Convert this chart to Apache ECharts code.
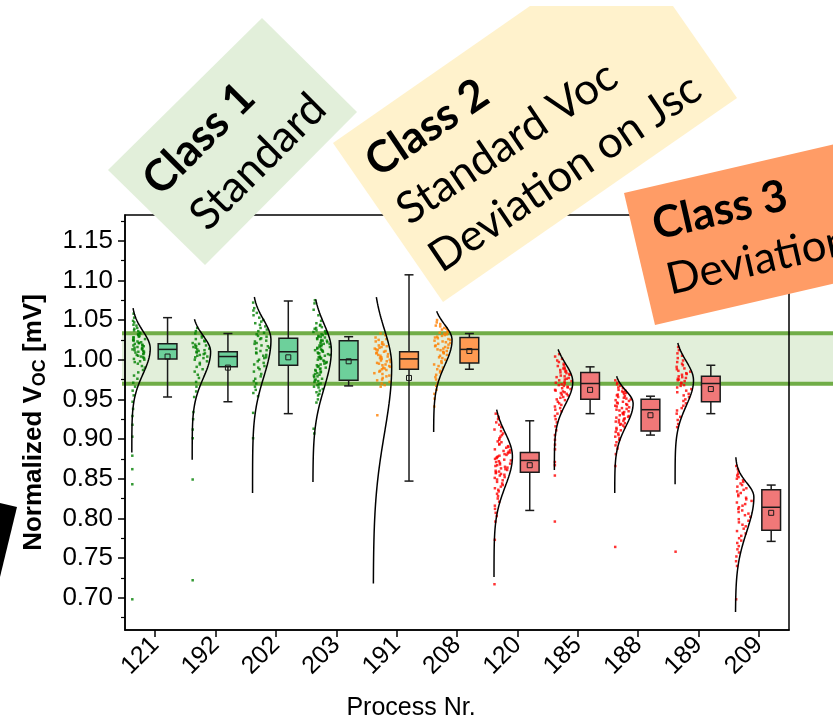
<!DOCTYPE html>
<html><head><meta charset="utf-8">
<script src="https://cdn.jsdelivr.net/npm/echarts@6/dist/echarts.min.js"></script>
<style>html,body{margin:0;padding:0;background:#fff}#c{width:833px;height:721px}</style>
</head><body><div id="c"></div>
<script>
// ---------------- data ----------------
const processes = ['121','192','202','203','191','208','120','185','188','189','209'];
const classOf   = [1,1,1,1,2,2,3,3,3,3,3];

// box statistics
const boxMin    = [0.953,0.947,0.932,0.967,0.847,0.988,0.810,0.932,0.905,0.932,0.771];
const boxQ1     = [1.001,0.991,0.993,0.974,0.988,0.996,0.858,0.950,0.910,0.947,0.785];
const boxMedian = [1.013,1.004,1.010,1.000,1.001,1.013,0.873,0.970,0.937,0.970,0.814];
const boxQ3     = [1.020,1.010,1.027,1.024,1.010,1.028,0.883,0.984,0.950,0.979,0.836];
const boxMax    = [1.053,1.033,1.074,1.029,1.107,1.033,0.923,0.991,0.954,0.993,0.842];
const boxMean   = [1.004,0.990,1.003,0.998,0.977,1.011,0.867,0.962,0.930,0.963,0.807];

// distribution curves (range, peak, spread above / below peak)
const curveLow    = [0.883,0.874,0.832,0.846,0.718,0.909,0.726,0.861,0.832,0.843,0.682];
const curveHigh   = [1.065,1.051,1.079,1.076,1.079,1.061,0.937,1.013,0.979,1.021,0.877];
const curvePeak   = [1.014,1.010,1.025,1.012,0.992,1.025,0.878,0.972,0.945,0.974,0.827];
const curveSdUp   = [0.022,0.020,0.025,0.033,0.046,0.019,0.030,0.023,0.016,0.024,0.018];
const curveSdDown = [0.032,0.033,0.047,0.048,0.085,0.032,0.038,0.028,0.029,0.032,0.044];

// individual measurements (estimated from the scatter)
const pts121 = [1.058,1.053,1.049,1.047,1.044,1.043,1.040,1.039,1.037,1.036,1.034,1.033,1.032,1.031,1.030,1.029,1.028,1.028,1.026,1.025,1.025,1.024,1.023,1.022,1.021,1.021,1.020,1.019,1.018,1.018,1.017,1.016,1.015,1.015,1.014,1.013,1.013,1.012,1.011,1.010,1.010,1.009,1.008,1.007,1.006,1.005,1.004,1.003,1.002,1.001,1.000,0.998,0.997,0.995,0.992,0.990,0.987,0.984,0.980,0.976,0.971,0.966,0.961,0.955,0.947,0.938,0.929,0.918,0.903,0.879,0.862,0.843,0.698];
const pts192 = [1.040,1.036,1.033,1.030,1.028,1.026,1.024,1.023,1.021,1.020,1.019,1.018,1.017,1.016,1.015,1.014,1.013,1.012,1.011,1.010,1.009,1.008,1.007,1.006,1.005,1.004,1.003,1.002,1.000,0.998,0.996,0.994,0.991,0.988,0.985,0.981,0.977,0.972,0.966,0.960,0.953,0.934,0.925,0.912,0.901,0.849,0.722];
const pts202 = [1.072,1.065,1.062,1.059,1.056,1.053,1.050,1.048,1.046,1.044,1.042,1.040,1.038,1.036,1.034,1.032,1.030,1.029,1.027,1.026,1.024,1.023,1.021,1.020,1.018,1.017,1.015,1.014,1.012,1.011,1.009,1.008,1.006,1.005,1.003,1.002,1.000,0.998,0.996,0.994,0.992,0.990,0.988,0.985,0.982,0.979,0.976,0.973,0.970,0.966,0.962,0.958,0.954,0.933,0.901];
const pts203 = [1.075,1.071,1.063,1.056,1.049,1.046,1.044,1.043,1.041,1.040,1.039,1.037,1.036,1.035,1.034,1.033,1.032,1.031,1.030,1.029,1.029,1.028,1.027,1.026,1.025,1.024,1.024,1.023,1.022,1.021,1.020,1.020,1.019,1.018,1.017,1.016,1.016,1.015,1.014,1.013,1.012,1.012,1.011,1.010,1.009,1.008,1.008,1.007,1.006,1.005,1.004,1.003,1.003,1.002,1.001,1.000,0.999,0.998,0.997,0.996,0.995,0.994,0.993,0.992,0.991,0.990,0.989,0.988,0.987,0.986,0.985,0.984,0.983,0.982,0.981,0.980,0.979,0.978,0.976,0.975,0.974,0.973,0.972,0.970,0.969,0.968,0.966,0.965,0.963,0.961,0.959,0.957,0.955,0.950,0.946,0.913,0.907];
const pts191 = [1.033,1.031,1.028,1.026,1.025,1.023,1.022,1.020,1.019,1.018,1.017,1.016,1.015,1.014,1.013,1.012,1.011,1.010,1.009,1.008,1.007,1.006,1.005,1.004,1.003,1.002,1.001,1.000,0.999,0.998,0.997,0.996,0.995,0.994,0.993,0.992,0.991,0.990,0.989,0.988,0.987,0.986,0.985,0.983,0.982,0.980,0.979,0.977,0.975,0.974,0.972,0.970,0.968,0.966,0.930];
const pts208 = [1.050,1.047,1.045,1.043,1.042,1.040,1.039,1.038,1.036,1.035,1.034,1.033,1.032,1.031,1.030,1.029,1.028,1.027,1.026,1.025,1.024,1.023,1.022,1.021,1.020,1.019,1.018,1.017,1.016,1.015,1.014,1.013,1.012,1.011,1.010,1.009,1.008,1.006,1.005,1.003,1.002,1.000,0.998,0.996,0.994,0.992,0.990,0.988,0.986,0.984,0.981,0.978,0.975,0.971,0.967,0.962,0.957,0.951,0.941];
const pts120 = [0.932,0.928,0.925,0.921,0.918,0.915,0.912,0.910,0.907,0.905,0.903,0.901,0.899,0.897,0.896,0.894,0.893,0.891,0.890,0.889,0.887,0.886,0.885,0.884,0.883,0.882,0.881,0.880,0.879,0.878,0.877,0.876,0.875,0.874,0.873,0.872,0.871,0.870,0.869,0.868,0.867,0.866,0.865,0.864,0.863,0.862,0.861,0.860,0.859,0.858,0.857,0.856,0.855,0.854,0.852,0.851,0.849,0.848,0.846,0.844,0.842,0.840,0.838,0.836,0.834,0.831,0.828,0.825,0.821,0.816,0.812,0.807,0.803,0.796,0.773,0.717];
const pts185 = [1.007,1.004,1.001,0.999,0.997,0.995,0.993,0.992,0.990,0.989,0.988,0.987,0.986,0.985,0.984,0.983,0.982,0.981,0.980,0.979,0.978,0.977,0.976,0.975,0.974,0.973,0.972,0.971,0.970,0.969,0.968,0.967,0.966,0.965,0.964,0.963,0.962,0.961,0.960,0.959,0.958,0.957,0.956,0.955,0.953,0.952,0.950,0.949,0.947,0.945,0.943,0.941,0.939,0.937,0.935,0.932,0.929,0.925,0.921,0.916,0.911,0.905,0.899,0.893,0.887,0.871,0.867,0.854,0.796];
const pts188 = [0.974,0.971,0.969,0.967,0.965,0.964,0.962,0.961,0.960,0.959,0.958,0.957,0.956,0.955,0.954,0.953,0.952,0.951,0.950,0.949,0.948,0.947,0.946,0.945,0.944,0.943,0.942,0.941,0.940,0.939,0.938,0.937,0.936,0.935,0.934,0.933,0.932,0.931,0.930,0.929,0.928,0.927,0.926,0.925,0.924,0.923,0.922,0.921,0.920,0.919,0.918,0.917,0.915,0.914,0.912,0.911,0.909,0.907,0.905,0.903,0.901,0.899,0.896,0.892,0.888,0.881,0.866,0.764];
const pts189 = [1.016,1.012,1.008,1.005,1.002,0.999,0.997,0.995,0.993,0.991,0.989,0.988,0.986,0.985,0.983,0.982,0.981,0.979,0.978,0.977,0.976,0.975,0.974,0.973,0.971,0.970,0.968,0.967,0.965,0.963,0.961,0.959,0.957,0.955,0.953,0.950,0.948,0.945,0.942,0.939,0.936,0.932,0.928,0.924,0.919,0.915,0.758];
const pts209 = [0.866,0.862,0.859,0.856,0.854,0.852,0.850,0.848,0.846,0.844,0.842,0.840,0.838,0.836,0.834,0.832,0.830,0.828,0.826,0.824,0.822,0.820,0.818,0.816,0.814,0.812,0.810,0.808,0.806,0.804,0.802,0.799,0.797,0.795,0.792,0.790,0.787,0.784,0.781,0.778,0.775,0.772,0.769,0.765,0.761,0.757,0.752,0.746,0.740,0.698];

// y axis ticks
const yTicks      = [0.70,0.75,0.80,0.85,0.90,0.95,1.00,1.05,1.10,1.15];
const yMinorTicks = [0.675,0.725,0.775,0.825,0.875,0.925,0.975,1.025,1.075,1.125,1.175];
const bandLow = 0.9697, bandHigh = 1.0333;

// ---------------- style / layout ----------------
const AX_FONT = 'Liberation Sans, Arial, sans-serif';
const LB_FONT = 'Lato, sans-serif';
const classColors = {
  1: {pt:'#008000', box:'#6dd09b'},
  2: {pt:'#ff8000', box:'#ff9a52'},
  3: {pt:'#ff0000', box:'#f07878'}
};
const BASE = -0.387, AMP = 0.305, BOX_OFF = 0.205, BOX_W = 0.31;

const pointSets = [pts121,pts192,pts202,pts203,pts191,pts208,pts120,pts185,pts188,pts189,pts209];

function dens(k, y) {
  const sd = y >= curvePeak[k] ? curveSdUp[k] : curveSdDown[k];
  const d = (y - curvePeak[k]) / sd;
  return Math.exp(-0.5 * d * d);
}
// deterministic horizontal spread of the dots inside the envelope (layout only, not data)
function spread(i, k) {
  let h = Math.imul(i + 1, 2654435761) ^ Math.imul(k + 7, 40503);
  h = Math.imul(h ^ (h >>> 15), 2246822519);
  h = Math.imul(h ^ (h >>> 13), 3266489917);
  h ^= h >>> 16;
  return (h >>> 0) / 4294967296;
}

const scatterSeries = [1,2,3].map(c => ({
  type: 'scatter', xAxisIndex: 1, yAxisIndex: 0, symbol: 'rect', symbolSize: 2.5,
  itemStyle: {color: classColors[c].pt}, silent: true, z: 3,
  data: pointSets.flatMap((arr, k) => classOf[k] !== c ? [] :
    arr.map((v, i) => [k + BASE + 0.008 + spread(i, k) * AMP * 0.92 * dens(k, v), v]))
}));

const curveSeries = processes.map((p, k) => {
  const n = 140, data = [];
  for (let j = 0; j <= n; j++) {
    const y = curveLow[k] + (curveHigh[k] - curveLow[k]) * j / n;
    data.push([k + BASE + AMP * dens(k, y), y]);
  }
  return {type: 'line', xAxisIndex: 1, yAxisIndex: 0, data, symbol: 'none',
    lineStyle: {color: '#000', width: 1.5}, silent: true, z: 4};
});

const boxData = processes.map((p, k) => [k, boxMin[k], boxQ1[k], boxMedian[k], boxQ3[k], boxMax[k], boxMean[k]]);

const boxSeries = {
  type: 'custom', xAxisIndex: 1, yAxisIndex: 0, z: 5, silent: true, data: boxData,
  encode: {x: 0, y: [1,2,3,4,5,6]},
  renderItem(params, api) {
    const k = api.value(0);
    const cx = api.coord([k + BOX_OFF, 1])[0];
    const hw = api.size([BOX_W, 0])[0] / 2;
    const cw = hw * 0.48;
    const py = i => api.coord([k, api.value(i)])[1];
    const yMin = py(1), yQ1 = py(2), yMed = py(3), yQ3 = py(4), yMax = py(5), yMean = py(6);
    const col = classColors[classOf[k]].box;
    const ls = {stroke: '#1a1a1a', lineWidth: 1.5};
    return {type: 'group', children: [
      {type: 'line', shape: {x1: cx, y1: yMax, x2: cx, y2: yQ3}, style: ls},
      {type: 'line', shape: {x1: cx, y1: yQ1, x2: cx, y2: yMin}, style: ls},
      {type: 'line', shape: {x1: cx - cw, y1: yMax, x2: cx + cw, y2: yMax}, style: ls},
      {type: 'line', shape: {x1: cx - cw, y1: yMin, x2: cx + cw, y2: yMin}, style: ls},
      {type: 'rect', shape: {x: cx - hw, y: yQ3, width: 2 * hw, height: yQ1 - yQ3},
        style: {fill: col, stroke: '#1a1a1a', lineWidth: 1.5}},
      {type: 'line', shape: {x1: cx - hw, y1: yMed, x2: cx + hw, y2: yMed}, style: ls},
      {type: 'rect', shape: {x: cx - 2.5, y: yMean - 2.5, width: 5, height: 5},
        style: {fill: 'none', stroke: '#1a1a1a', lineWidth: 1}}
    ]};
  }
};

const chart = echarts.init(document.getElementById('c'), null, {renderer: 'canvas'});
const YMIN = 0.6593, YMAX = 1.1824;

chart.setOption({
  animation: false,
  backgroundColor: '#fff',
  grid: {left: 125, right: 44, top: 215, bottom: 91, show: true, borderColor: '#000', borderWidth: 1.5, backgroundColor: 'transparent'},
  xAxis: [
    {type: 'category', data: processes, boundaryGap: true,
      axisLine: {show: true, onZero: false, lineStyle: {color: '#000', width: 1.5}},
      axisTick: {show: true, alignWithLabel: true, length: 7, lineStyle: {color: '#000', width: 1.5}},
      axisLabel: {rotate: 45, interval: 0, margin: 11, fontSize: 25, color: '#000', fontFamily: AX_FONT},
      splitLine: {show: false}},
    {type: 'value', min: -0.5, max: 10.5, show: false, axisLine: {onZero: false}}
  ],
  yAxis: [
    {type: 'value', min: YMIN, max: YMAX, position: 'left',
      name: '{a|Normalized V}{b|OC}{a| [mV]}', nameLocation: 'middle', nameRotate: 90, nameGap: 76,
      nameTextStyle: {rich: {
        a: {fontSize: 26, fontWeight: 'bold', fontFamily: AX_FONT, color: '#000', lineHeight: 30},
        b: {fontSize: 18, fontWeight: 'bold', fontFamily: AX_FONT, color: '#000', lineHeight: 18, verticalAlign: 'bottom'}
      }},
      axisLine: {show: true, onZero: false, lineStyle: {color: '#000', width: 1.5}},
      axisTick: {show: true, length: 7, customValues: yTicks, lineStyle: {color: '#000', width: 1.5}},
      axisLabel: {customValues: yTicks, fontSize: 26, color: '#000', fontFamily: AX_FONT, margin: 12,
        formatter: v => v.toFixed(2)},
      splitLine: {show: false}},
    {type: 'value', min: YMIN, max: YMAX, position: 'left',
      axisLine: {show: false, onZero: false}, axisLabel: {show: false}, splitLine: {show: false},
      axisTick: {show: true, length: 4, customValues: yMinorTicks, lineStyle: {color: '#000', width: 1.2}}}
  ],
  series: [...scatterSeries, ...curveSeries, boxSeries]
});

const yHi = chart.convertToPixel({yAxisIndex: 0}, bandHigh);
const yLo = chart.convertToPixel({yAxisIndex: 0}, bandLow);
const deg = d => d * Math.PI / 180;
function txt(x, y, text, rotDeg, bold, size, align) {
  return {type: 'text', x, y, rotation: deg(rotDeg), z: 101,
    style: {text, fontFamily: LB_FONT, fontWeight: bold ? 'bold' : 'normal', fontSize: size,
      fill: '#000', align: align || 'center', verticalAlign: 'middle'}};
}

chart.setOption({
  graphic: [
    {type: 'rect', z: -1, shape: {x: 122, y: yHi, width: 720, height: yLo - yHi}, style: {fill: '#e2efda'}, silent: true},
    {type: 'line', z: -1, shape: {x1: 122, y1: yHi, x2: 840, y2: yHi}, style: {stroke: '#70ad47', lineWidth: 4}, silent: true},
    {type: 'line', z: -1, shape: {x1: 122, y1: yLo, x2: 840, y2: yLo}, style: {stroke: '#70ad47', lineWidth: 4}, silent: true},
    {type: 'polygon', z: 100, shape: {points: [[262,18],[357,112],[205,265],[108,170]]}, style: {fill: '#e2efda'}},
    {type: 'polygon', z: 100, shape: {points: [[333,143],[530,6],[673,6],[737,98],[443,302]]}, style: {fill: '#fff2cc'}},
    {type: 'polygon', z: 100, shape: {points: [[624,193],[900,129],[931,261],[655,325]]}, style: {fill: '#ff9c66'}},
    {type: 'polygon', z: 100, shape: {points: [[0,503],[17,507],[0,577]]}, style: {fill: '#000'}},
    txt(199, 139, 'Class 1', 45, true, 44),
    txt(258, 162, 'Standard', 45, false, 44),
    txt(427, 128, 'Class 2', 34, true, 44),
    txt(507, 143, 'Standard Voc', 34, false, 44),
    txt(565, 173, 'Deviation on Jsc', 34, false, 44),
    txt(653, 226, 'Class 3', 13, true, 44, 'left'),
    txt(667, 281, 'Deviation', 13, false, 44, 'left'),
    {type: 'text', x: 411, y: 708, z: 101,
      style: {text: 'Process Nr.', fontFamily: AX_FONT, fontSize: 25, fill: '#000', align: 'center', verticalAlign: 'middle'}}
  ]
});
</script>
</body></html>
